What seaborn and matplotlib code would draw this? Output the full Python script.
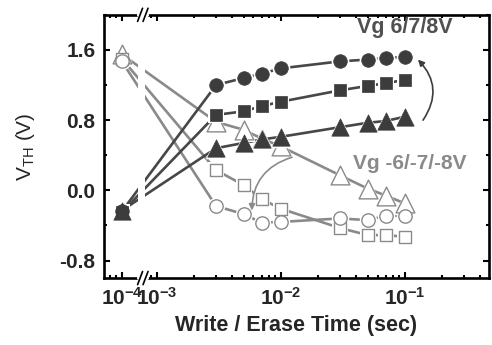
import numpy as np
import seaborn as sns
import matplotlib
matplotlib.use('Agg')
import matplotlib.pyplot as plt
from matplotlib.ticker import MultipleLocator, FormatStrFormatter
from matplotlib.transforms import blended_transform_factory

# write / erase times (sec)
times = [1e-4, 3e-3, 5e-3, 7e-3, 1e-2, 3e-2, 5e-2, 7e-2, 1e-1]

# write (filled) Vg 8 / 7 / 6 V
write_8v = [-0.24, 1.20, 1.28, 1.33, 1.39, 1.47, 1.49, 1.51, 1.52]
write_7v = [-0.25, 0.86, 0.90, 0.96, 1.01, 1.14, 1.19, 1.22, 1.26]
write_6v = [-0.23, 0.48, 0.54, 0.58, 0.61, 0.72, 0.77, 0.79, 0.84]

# erase (open) Vg -6 / -7 / -8 V
erase_6v = [1.55, 0.78, 0.69, 0.59, 0.50, 0.17, 0.02, -0.06, -0.15]
erase_7v = [1.50, 0.23, 0.06, -0.10, -0.21, -0.43, -0.51, -0.51, -0.53]
erase_8v = [1.47, -0.18, -0.27, -0.37, -0.36, -0.32, -0.34, -0.29, -0.29]

major_ticks = [1e-4, 1e-3, 1e-2, 1e-1]
major_labels = [r'$\mathbf{10^{-4}}$', r'$\mathbf{10^{-3}}$', r'$\mathbf{10^{-2}}$', r'$\mathbf{10^{-1}}$']

# broken log axis: 10^-4 region squeezed next to 10^-3
SHIFT = 0.718
T_BRK = -3.113
X_LO = 10 ** (T_BRK - SHIFT)
X_HI = 10 ** T_BRK


def forward(x):
    x = np.asarray(x, dtype=float)
    with np.errstate(divide='ignore', invalid='ignore'):
        t = np.log10(x)
    return np.where(x <= X_LO, t + SHIFT, np.where(x >= X_HI, t, T_BRK))


def inverse(t):
    t = np.asarray(t, dtype=float)
    return np.where(t < T_BRK, 10 ** (t - SHIFT), 10 ** t)


sns.set_style('ticks')
plt.rcParams['font.family'] = ['Liberation Sans', 'DejaVu Sans']
plt.rcParams['mathtext.fontset'] = 'custom'
plt.rcParams['mathtext.rm'] = 'Liberation Sans'
plt.rcParams['mathtext.bf'] = 'Liberation Sans:bold'
plt.rcParams['axes.unicode_minus'] = False

fig, ax = plt.subplots(figsize=(4.92, 3.45), dpi=100)
fig.subplots_adjust(left=0.211, right=0.994, bottom=0.194, top=0.957)
ax.set_xscale('function', functions=(forward, inverse))

dark = '#3c3c3c'
dline = '#474747'
grey = '#8a8a8a'

erase = [(erase_6v, '^', 13.5), (erase_7v, 's', 8.3), (erase_8v, 'o', 9.6)]
write = [(write_8v, 'o', 9.8), (write_7v, 's', 8.6), (write_6v, '^', 12.5)]

for vals, m, ms in erase:
    sns.lineplot(x=times, y=vals, ax=ax, color=grey, lw=1.9, estimator=None, sort=False, zorder=2)
for vals, m, ms in write:
    sns.lineplot(x=times, y=vals, ax=ax, color=dline, lw=1.9, estimator=None, sort=False, zorder=2.1)

# white band at the axis break
ax.axvspan(inverse(T_BRK - 0.035), inverse(T_BRK + 0.02), color='white', lw=0, zorder=2.3)

for vals, m, ms in erase:
    sns.scatterplot(x=times, y=vals, ax=ax, marker=m, s=(ms + 3) ** 2, color='white', linewidth=0, zorder=3)
    sns.scatterplot(x=times, y=vals, ax=ax, marker=m, s=ms ** 2, facecolor='white', edgecolor=grey, linewidth=1.0, zorder=3.1)
for vals, m, ms in write:
    sns.scatterplot(x=times, y=vals, ax=ax, marker=m, s=(ms + 3) ** 2, color='white', linewidth=0, zorder=3.2)
    sns.scatterplot(x=times, y=vals, ax=ax, marker=m, s=ms ** 2, color=dark, edgecolor=dark, linewidth=0.5, zorder=3.3)

ax.set_xlim(7.16e-5, 0.475)
ax.set_ylim(-1.0, 2.0)

minor = [8e-5, 9e-5, 9e-4] + [k * 10.0 ** e for e in (-3, -2, -1) for k in range(2, 10)]
minor = [v for v in minor if v < 0.475]
ax.set_xticks(major_ticks, major_labels)
ax.set_xticks(minor, minor=True)
ax.yaxis.set_major_locator(MultipleLocator(0.8))
ax.yaxis.set_minor_locator(MultipleLocator(0.4))
ax.yaxis.set_major_formatter(FormatStrFormatter('%.1f'))

ax.tick_params(which='both', direction='in', top=True, right=True, width=1.5, color='black')
ax.tick_params(which='major', length=4.5, labelsize=15, pad=6)
ax.tick_params(which='minor', length=2.5)
for lab in ax.get_yticklabels():
    lab.set_fontweight('bold')
for sp in ax.spines.values():
    sp.set_linewidth(1.9)
    sp.set_color('black')

ax.set_xlabel('Write / Erase Time (sec)', fontsize=15.5, fontweight='bold', labelpad=5)
ax.set_ylabel(r'V$_{\mathrm{TH}}$ (V)', fontsize=15, labelpad=16)

# break marks on bottom and top spines
trans = blended_transform_factory(ax.transData, ax.transAxes)
for yb in (0.0, 1.0):
    ax.plot([inverse(T_BRK - 0.03), inverse(T_BRK + 0.03)], [yb, yb], color='white', lw=3,
            transform=trans, clip_on=False, zorder=6)
    for dt in (-0.022, 0.022):
        ax.plot([inverse(T_BRK + dt - 0.02), inverse(T_BRK + dt + 0.02)], [yb - 0.025, yb + 0.025],
                color='black', lw=1.2, transform=trans, clip_on=False, zorder=7)

ax.text(0.041, 1.86, 'Vg 6/7/8V', color='#505050', fontsize=15.5, fontweight='bold', ha='left', va='center')
ax.text(0.0381, 0.31, 'Vg -6/-7/-8V', color=grey, fontsize=15, fontweight='bold', ha='left', va='center')

ax.annotate('', xy=(0.127, 1.49), xytext=(0.1396, 0.80),
            arrowprops=dict(arrowstyle='-|>', color=dark, lw=1.2, mutation_scale=9,
                            connectionstyle='arc3,rad=0.4', shrinkA=0, shrinkB=0))
ax.annotate('', xy=(5.83e-3, -0.23), xytext=(0.01227, 0.377),
            arrowprops=dict(arrowstyle='-|>', color=grey, lw=1.2, mutation_scale=9,
                            connectionstyle='arc3,rad=0.36', shrinkA=0, shrinkB=0))

plt.savefig('out.png', dpi=100)
